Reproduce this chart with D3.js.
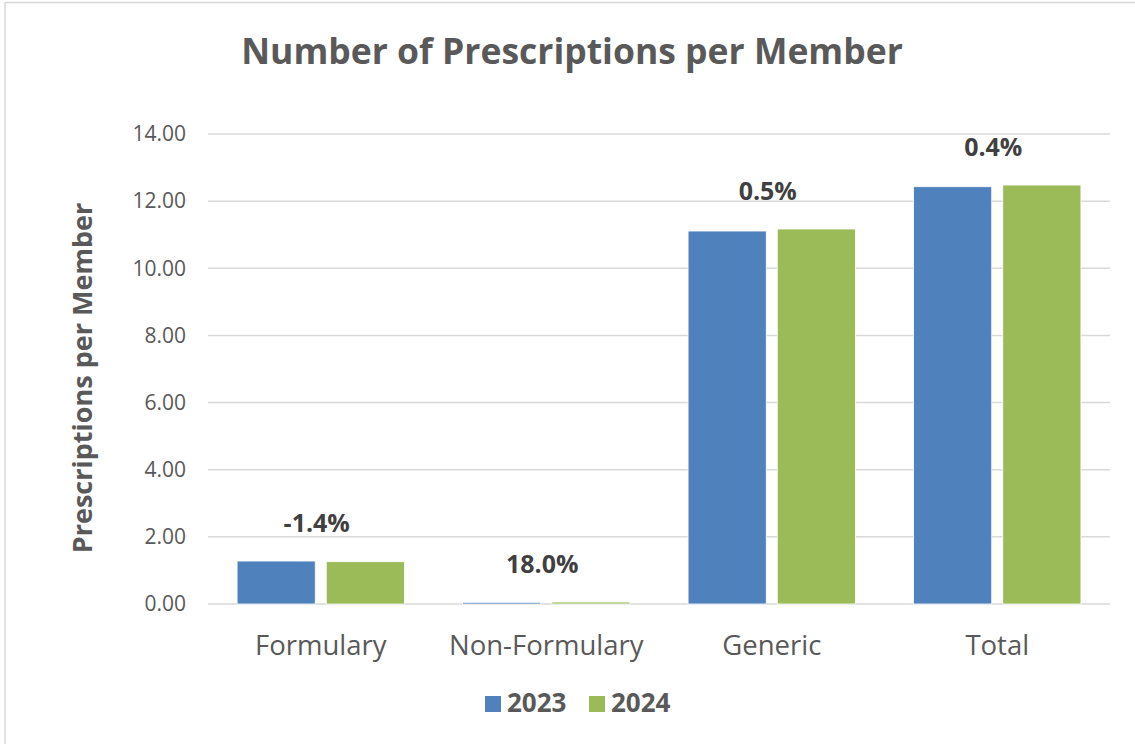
<!DOCTYPE html>
<html>
    <head>
        <meta charset="utf-8">
        <title>Number of Prescriptions per Member</title>
        <style>
body {
    margin: 0;
    background-color: white;
}

svg {
    display: block;
    font-family: "Open Sans", sans-serif;
}

.grid line {
    stroke: #d9d9d9;
    stroke-width: 1.5;
}

</style>
        <script src="https://cdn.jsdelivr.net/npm/d3@7"></script>
    </head>
    <body>
        <script>
var categories = ["Formulary", "Non-Formulary", "Generic", "Total"];
var years = ["2023", "2024"];
var values2023 = [1.28, 0.05, 11.11, 12.43];
var values2024 = [1.26, 0.059, 11.17, 12.48];
var changeLabels = ["-1.4%", "18.0%", "0.5%", "0.4%"];
var yTicks = [0, 2, 4, 6, 8, 10, 12, 14];
var colors = ["#4f81bd", "#9bbb59"];

var width = 1135,
    height = 744;

var svg = d3.select('body')
    .append('svg')
    .attr('width', width)
    .attr('height', height);

// chart frame (only top and left edges show)
svg.append("rect")
    .attr("x", 5)
    .attr("y", 2.5)
    .attr("width", 1200)
    .attr("height", 800)
    .attr("fill", "white")
    .attr("stroke", "#d9d9d9")
    .attr("stroke-width", 1.5);

var x0 = d3.scaleBand()
    .domain(categories)
    .range([208, 1110]);

var x1 = d3.scaleBand()
    .domain(years)
    .range([0, x0.bandwidth()])
    .paddingInner(0.1236)
    .paddingOuter(0.326);

var y = d3.scaleLinear()
    .domain([0, 14])
    .range([604, 134]);

var color = d3.scaleOrdinal()
    .domain(years)
    .range(colors);

// gridlines
svg.append("g")
    .attr("class", "grid")
    .selectAll("line")
    .data(yTicks)
    .enter()
    .append("line")
    .attr("x1", x0.range()[0])
    .attr("x2", x0.range()[1])
    .attr("y1", function (d) { return y(d); })
    .attr("y2", function (d) { return y(d); });

// y axis labels
var yAxis = d3.axisLeft(y)
    .tickValues(yTicks)
    .tickFormat(d3.format(".2f"))
    .tickSize(0)
    .tickPadding(0);

var yAxisG = svg.append("g")
    .attr("transform", "translate(186,0)")
    .call(yAxis);
yAxisG.select(".domain").remove();
yAxisG.selectAll("text")
    .attr("fill", "#595959")
    .style("font-size", "21px")
    .style("font-family", "'Open Sans', sans-serif");

// x axis labels
var xAxis = d3.axisBottom(x0)
    .tickSize(0)
    .tickPadding(0);

var xAxisG = svg.append("g")
    .attr("transform", "translate(0,635)")
    .call(xAxis);
xAxisG.select(".domain").remove();
xAxisG.selectAll("text")
    .attr("fill", "#595959")
    .style("font-size", "27.5px")
    .style("font-family", "'Open Sans', sans-serif");

// bars
var rows = categories.map(function (c, i) {
    return { category: c, values: [values2023[i], values2024[i]], label: changeLabels[i] };
});

var groups = svg.selectAll(".cat")
    .data(rows)
    .enter()
    .append("g")
    .attr("class", "cat")
    .attr("transform", function (d) { return "translate(" + x0(d.category) + ",0)"; });

groups.selectAll("rect")
    .data(function (d) {
        return years.map(function (yr, j) { return { year: yr, value: d.values[j] }; });
    })
    .enter()
    .append("rect")
    .attr("x", function (d) { return x1(d.year); })
    .attr("width", x1.bandwidth())
    .attr("y", function (d) { return y(d.value); })
    .attr("height", function (d) { return y(0) - y(d.value); })
    .attr("fill", function (d) { return color(d.year); })
    .attr("stroke", "white")
    .attr("stroke-width", 0.8);

// change labels
groups.append("text")
    .attr("x", x0.bandwidth() / 2 - 4)
    .attr("y", function (d) { return y(d3.max(d.values)) - 29; })
    .attr("text-anchor", "middle")
    .attr("fill", "#404040")
    .style("font-size", "25px")
    .style("font-weight", "bold")
    .text(function (d) { return d.label; });

// title
svg.append("text")
    .attr("x", 572)
    .attr("y", 64)
    .attr("text-anchor", "middle")
    .attr("fill", "#595959")
    .style("font-size", "35.5px")
    .style("font-weight", "bold")
    .text("Number of Prescriptions per Member");

// y axis title
svg.append("text")
    .attr("transform", "translate(92,378) rotate(-90)")
    .attr("text-anchor", "middle")
    .attr("fill", "#595959")
    .style("font-size", "27px")
    .style("font-weight", "bold")
    .text("Prescriptions per Member");

// legend
var legend = svg.selectAll(".legend")
    .data(years)
    .enter()
    .append("g")
    .attr("class", "legend")
    .attr("transform", function (d, i) { return "translate(" + (485 + i * 104) + ",696)"; });

legend.append("rect")
    .attr("width", 16)
    .attr("height", 16)
    .attr("fill", function (d) { return color(d); });

legend.append("text")
    .attr("x", 22)
    .attr("y", 16)
    .attr("fill", "#595959")
    .style("font-size", "26px")
    .style("font-weight", "bold")
    .text(function (d) { return d; });

        </script>
    </body>
</html>
